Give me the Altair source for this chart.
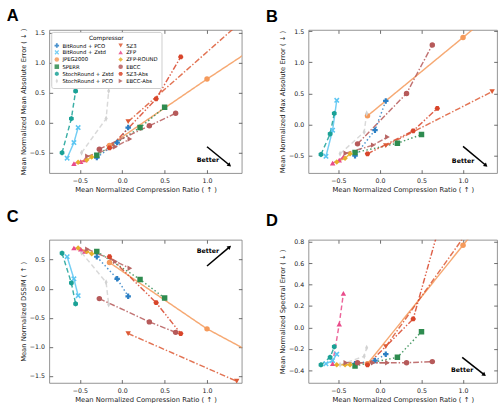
import altair as alt
import pandas as pd

COMPRESSORS = ["BitRound + PCO", "BitRound + Zstd", "JPEG2000", "SPERR",
               "StochRound + Zstd", "StochRound + PCO",
               "SZ3", "ZFP", "ZFP-ROUND", "EBCC", "SZ3-Abs", "EBCC-Abs"]
COLORS = ["#2b7fc4", "#5cc6f2", "#f59a5b", "#2e8b4f", "#1aa196", "#d2d2d2",
          "#dd5a35", "#e94b8a", "#e7af2d", "#b65a5a", "#d8452a", "#b86563"]

HEX = "M0,-1L0.866,-0.5L0.866,0.5L0,1L-0.866,0.5L-0.866,-0.5Z"
HEX2 = "M-1,0L-0.5,-0.866L0.5,-0.866L1,0L0.5,0.866L-0.5,0.866Z"
XSHAPE = "M-1,-0.6L-0.6,-1L0,-0.4L0.6,-1L1,-0.6L0.4,0L1,0.6L0.6,1L0,0.4L-0.6,1L-1,0.6L-0.4,0Z"
THIN_D = "M0,-1.1L0.55,0L0,1.1L-0.55,0Z"
SHAPES = ["cross", XSHAPE, "circle", "square", HEX, THIN_D,
          "triangle-down", "triangle-up", "diamond", "circle", HEX2, "triangle-right"]
DOT = [1.5, 2.5]
SOLID = [1, 0]
DASH = [5, 3]
DASHDOT = [6, 2, 1.5, 2]
DASHDOTDOT = [6, 2, 1.5, 2, 1.5, 2]
DASHES = [DOT, SOLID, SOLID, DOT, DASH, DASH, DASHDOT, DASH, SOLID, DASHDOT, DASHDOTDOT, DASHDOT]

# Mean normalized compression ratio (x) for each compressor setting
X_RATIO = {
    "BitRound + PCO": [-0.30, -0.06, 0.07],
    "BitRound + Zstd": [-0.65, -0.57, -0.52],
    "JPEG2000": [-0.15, 1.0, 3.0],
    "SPERR": [-0.30, 0.21, 0.50],
    "StochRound + Zstd": [-0.71, -0.60, -0.55],
    "StochRound + PCO": [-0.48, -0.19, -0.16],
    "SZ3": [0.07, 1.35],
    "ZFP": [-0.57, -0.49, -0.44],
    "ZFP-ROUND": [-0.52, -0.42, -0.36],
    "EBCC": [-0.27, 0.32, 0.63],
    "SZ3-Abs": [-0.15, 0.40, 0.69],
    "EBCC-Abs": [-0.41, -0.08, 0.09],
}
Y_MAE = {
    "BitRound + PCO": [-0.58, -0.33, -0.08],
    "BitRound + Zstd": [-0.59, -0.33, -0.08],
    "JPEG2000": [-0.38, 0.73, 2.6],
    "SPERR": [-0.54, -0.08, 0.26],
    "StochRound + Zstd": [-0.50, 0.07, 0.53],
    "StochRound + PCO": [-0.50, 0.07, 0.53],
    "SZ3": [0.02, 1.62],
    "ZFP": [-0.68, -0.65, -0.62],
    "ZFP-ROUND": [-0.66, -0.62, -0.57],
    "EBCC": [-0.44, -0.05, 0.16],
    "SZ3-Abs": [-0.42, 0.40, 1.10],
    "EBCC-Abs": [-0.56, -0.40, -0.27],
}
Y_MAXAE = {
    "BitRound + PCO": [-0.50, -0.09, 0.38],
    "BitRound + Zstd": [-0.51, -0.09, 0.39],
    "JPEG2000": [0.14, 1.40, 3.6],
    "SPERR": [-0.45, -0.30, -0.16],
    "StochRound + Zstd": [-0.48, -0.15, 0.18],
    "StochRound + PCO": [-0.47, -0.12, 0.18],
    "SZ3": [-0.34, 0.53],
    "ZFP": [-0.62, -0.57, -0.52],
    "ZFP-ROUND": [-0.60, -0.54, -0.47],
    "EBCC": [-0.31, 0.50, 1.28],
    "SZ3-Abs": [-0.47, -0.10, 0.26],
    "EBCC-Abs": [-0.46, -0.33, -0.20],
}
Y_DSSIM = {
    "BitRound + PCO": [0.55, 0.17, -0.13],
    "BitRound + Zstd": [0.55, 0.17, -0.12],
    "JPEG2000": [0.45, -0.69, -2.25],
    "SPERR": [0.64, 0.16, -0.16],
    "StochRound + Zstd": [0.61, 0.10, -0.26],
    "StochRound + PCO": [0.62, 0.11, -0.27],
    "SZ3": [-0.77, -1.59],
    "ZFP": [0.70, 0.68, 0.64],
    "ZFP-ROUND": [0.70, 0.64, 0.60],
    "EBCC": [-0.17, -0.57, -0.75],
    "SZ3-Abs": [0.55, -0.24, -0.77],
    "EBCC-Abs": [0.68, 0.47, 0.35],
}
Y_SPECTRAL = {
    "BitRound + PCO": [-0.34, -0.31, -0.25],
    "BitRound + Zstd": [-0.34, -0.31, -0.25],
    "JPEG2000": [-0.34, 0.77, 2.7],
    "SPERR": [-0.36, -0.28, -0.04],
    "StochRound + Zstd": [-0.35, -0.28, -0.18],
    "StochRound + PCO": [-0.35, -0.27, -0.19],
    "SZ3": [-0.18, 1.22],
    "ZFP": [-0.34, 0.03, 0.32],
    "ZFP-ROUND": [-0.35, -0.35, -0.35],
    "EBCC": [-0.33, -0.33, -0.32],
    "SZ3-Abs": [-0.35, 0.08, 0.88],
    "EBCC-Abs": [-0.33, -0.33, -0.33],
}

# "Better" arrows: start (x, y), end (x2, y2), text position (tx, ty), head angle
ARROW_A = {"x": 1.0, "y": -0.40, "x2": 1.26, "y2": -0.70, "tx": 1.01, "ty": -0.62, "angle": 130}
ARROW_B = {"x": 1.0, "y": -0.35, "x2": 1.27, "y2": -0.65, "tx": 1.0, "ty": -0.58, "angle": 130}
ARROW_C = {"x": 1.0, "y": 0.39, "x2": 1.26, "y2": 0.71, "tx": 1.01, "ty": 0.65, "angle": 50}
ARROW_D = {"x": 0.99, "y": -0.28, "x2": 1.25, "y2": -0.44, "tx": 0.99, "ty": -0.40, "angle": 129}

X_TITLE = "Mean Normalized Compression Ratio ( \u2191 )"
X_DOMAIN = [-0.86, 1.41]
X_TICKS = [-0.5, 0.0, 0.5, 1.0]

color_scale = alt.Scale(domain=COMPRESSORS, range=COLORS)
shape_scale = alt.Scale(domain=COMPRESSORS, range=SHAPES)
dash_scale = alt.Scale(domain=COMPRESSORS, range=DASHES)

FONT = "DejaVu Sans"
H = 148
TK = 3.5


def long_df(ydict):
    rows = []
    for c in COMPRESSORS:
        for i, (x, y) in enumerate(zip(X_RATIO[c], ydict[c])):
            rows.append({"Compressor": c, "x": x, "y": y, "i": i})
    return pd.DataFrame(rows)


def panel(ydict, ytitle, ydom, yticks, letter, arrow, legend, width, toff):
    df = long_df(ydict)
    xsc = alt.Scale(domain=X_DOMAIN, nice=False, zero=False)
    ysc = alt.Scale(domain=ydom, nice=False, zero=False)
    xax = alt.Axis(title=X_TITLE, values=X_TICKS, format=".1f", orient="bottom",
                   offset=-TK, tickSize=TK, domain=False, labelPadding=5,
                   titlePadding=2, labelOverlap=False)
    yax = alt.Axis(title=ytitle, values=yticks, format=".1f", labelOverlap=False,
                   orient="left", offset=-TK, tickSize=TK, domain=False,
                   labelPadding=5, titlePadding=3)
    xax2 = alt.Axis(title=None, values=X_TICKS, labels=False, orient="top",
                    offset=-TK, tickSize=TK, domain=False)
    yax2 = alt.Axis(title=None, values=yticks, labels=False, orient="right",
                    offset=-TK, tickSize=TK, domain=False)
    base = alt.Chart(df)
    if legend:
        leg = alt.Legend(title="Compressor", orient="top-left", columns=2, offset=2,
                         titleAnchor="middle", titleFontSize=6, titleFontWeight="normal",
                         labelFontSize=5.5, symbolSize=22, rowPadding=0.4, columnPadding=4,
                         fillColor="white", strokeColor="#cccccc", padding=3,
                         cornerRadius=2, labelFont=FONT, titleFont=FONT,
                         symbolStrokeWidth=0, titlePadding=2, labelOffset=3)
    else:
        leg = None
    lines = base.mark_line(clip=True, strokeWidth=1.5, opacity=0.85).encode(
        x=alt.X("x:Q", scale=xsc, axis=xax),
        y=alt.Y("y:Q", scale=ysc, axis=yax),
        color=alt.Color("Compressor:N", scale=color_scale, legend=leg),
        strokeDash=alt.StrokeDash("Compressor:N", scale=dash_scale, legend=None),
        detail="Compressor:N",
        order="i:Q",
    )
    pts = base.mark_point(clip=True, filled=True, size=32, opacity=1).encode(
        x=alt.X("x:Q", scale=xsc, axis=None),
        y=alt.Y("y:Q", scale=ysc, axis=None),
        color=alt.Color("Compressor:N", scale=color_scale, legend=leg),
        shape=alt.Shape("Compressor:N", scale=shape_scale, legend=leg),
    )
    adf = pd.DataFrame([arrow])
    abase = alt.Chart(adf)
    mirror = abase.mark_point(opacity=0).encode(
        x=alt.X("x:Q", scale=xsc, axis=xax2), y=alt.Y("y:Q", scale=ysc, axis=yax2))
    shaft = abase.mark_rule(color="black", strokeWidth=1.6).encode(
        x=alt.X("x:Q", scale=xsc, axis=None), y=alt.Y("y:Q", scale=ysc, axis=None),
        x2="x2:Q", y2="y2:Q")
    head = abase.mark_point(shape="triangle", filled=True, color="black", size=22,
                            opacity=1, angle=arrow["angle"]).encode(
        x=alt.X("x2:Q", scale=xsc, axis=None), y=alt.Y("y2:Q", scale=ysc, axis=None))
    txt = abase.mark_text(text="Better", font=FONT, fontSize=6.5, fontWeight="bold",
                          align="center", baseline="middle").encode(
        x=alt.X("tx:Q", scale=xsc, axis=None), y=alt.Y("ty:Q", scale=ysc, axis=None))
    return alt.layer(lines, mirror, pts, shaft, head, txt).resolve_axis(
        x="independent", y="independent").properties(
        width=width, height=H,
        title=alt.TitleParams(letter, anchor="start", frame="group", dx=-44, offset=toff,
                              fontSize=17, fontWeight="bold", font="Liberation Sans"),
    )


A = panel(Y_MAE, "Mean Normalized Mean Absolute Error ( \u2193 )", [-0.84, 1.55],
          [-0.5, 0.0, 0.5, 1.0, 1.5], "A", ARROW_A, True, 199, 3)
B = panel(Y_MAXAE, "Mean Normalized Max Absolute Error ( \u2193 )", [-0.78, 1.52],
          [-0.5, 0.0, 0.5, 1.0, 1.5], "B", ARROW_B, False, 195, 3)
C = panel(Y_DSSIM, "Mean Normalized DSSIM ( \u2191 )", [-1.62, 0.84],
          [-1.5, -1.0, -0.5, 0.0, 0.5], "C", ARROW_C, False, 199, 14)
D = panel(Y_SPECTRAL, "Mean Normalized Spectral Error ( \u2193 )", [-0.52, 0.82],
          [-0.4, -0.2, 0.0, 0.2, 0.4, 0.6, 0.8], "D", ARROW_D, False, 195, 10)

res = dict(color="independent", shape="independent", strokeDash="independent",
           x="independent", y="independent")
top = alt.hconcat(A, B, spacing=23).resolve_scale(**res)
bottom = alt.hconcat(C, D, spacing=23).resolve_scale(**res)
chart = alt.vconcat(top, bottom, spacing=15).resolve_scale(**res).properties(
    padding={"left": 6, "top": 0, "right": 2, "bottom": 2}, background="white"
).configure_view(stroke="#777777", strokeWidth=0.8).configure_axis(
    labelFont=FONT, titleFont=FONT, labelFontSize=6.5, titleFontSize=7,
    titleFontWeight="normal", labelColor="#222222", titleColor="#222222",
    tickColor="#444444", tickWidth=0.8, grid=False,
)

chart.save("out.html", embed_options={"renderer": "svg", "actions": False})
